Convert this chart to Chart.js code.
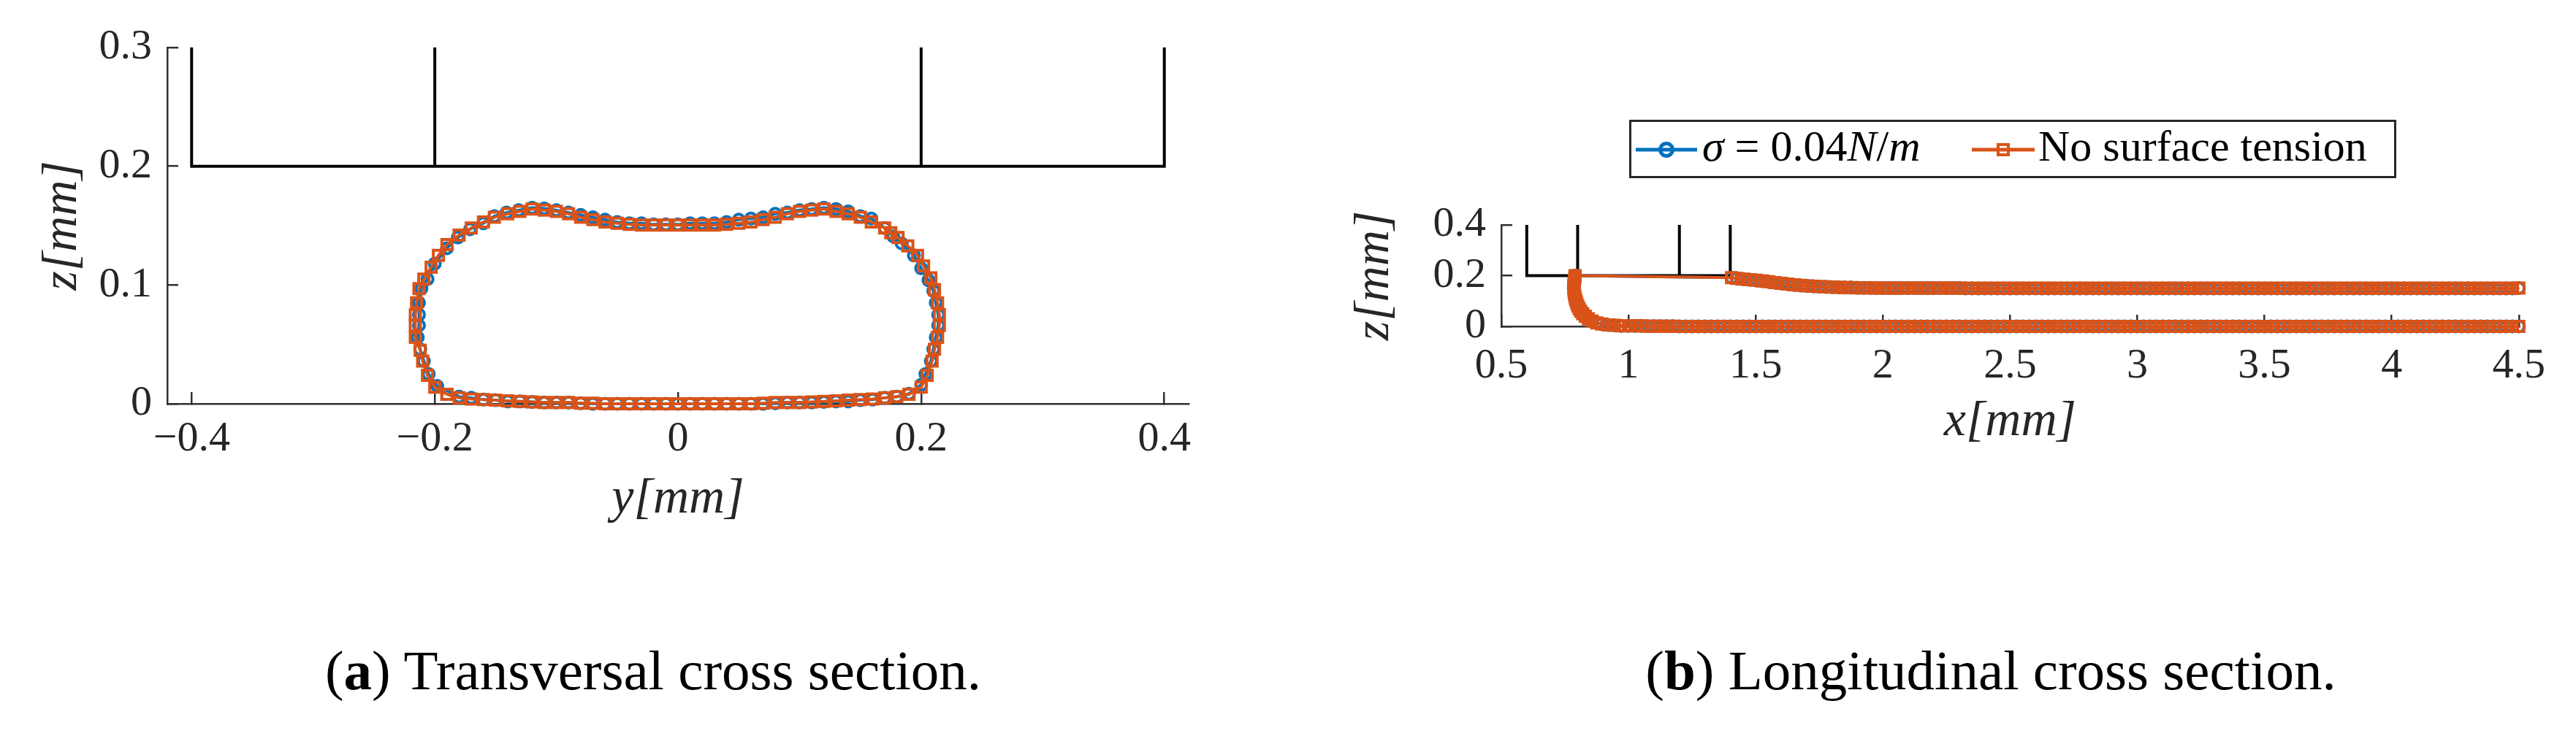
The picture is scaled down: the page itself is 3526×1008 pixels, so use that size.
<!DOCTYPE html>
<html lang="en">
<head>
<meta charset="UTF-8" />
<title>Cross sections</title>
<script src="https://cdn.jsdelivr.net/npm/chart.js"></script>
<style>
  html, body { margin: 0; padding: 0; background: #fff; }
  body { position: relative; width: 3526px; height: 1008px; overflow: hidden; font-family: "Liberation Serif", serif; color: #000; }
  canvas { position: absolute; top: 0; }
  .caption { position: absolute; top: 868px; font-size: 77px; line-height: 100px; white-space: nowrap; transform: translateX(-50%); }
  #legend { position: absolute; left: 2230px; top: 164px; width: 1044px; height: 74px; border: 3px solid #262626; background: #fff; font-size: 60px; color: #000; }
  #legend svg { position: absolute; top: 0; left: 0; }
  #legend span { position: absolute; top: 0; line-height: 66px; white-space: nowrap; }
</style>
</head>
<body>
<canvas id="transversal" width="1763" height="800" style="left:0"></canvas>
<canvas id="longitudinal" width="1763" height="800" style="left:1763px"></canvas>
<div id="legend">
  <svg width="1044" height="74">
    <line x1="6" x2="90" y1="38" y2="38" stroke="#0072BD" stroke-width="5"/>
    <circle cx="48" cy="38" r="8.5" fill="none" stroke="#0072BD" stroke-width="5"/>
    <line x1="466" x2="552" y1="38" y2="38" stroke="#D95319" stroke-width="5"/>
    <rect x="502" y="31" width="14" height="14" fill="none" stroke="#D95319" stroke-width="4"/>
  </svg>
  <span style="left:97px"><i>σ</i> = 0.04<i>N</i>/<i>m</i></span>
  <span style="left:557px">No surface tension</span>
</div>
<div class="caption" style="left:894px">(<b>a</b>) Transversal cross section.</div>
<div class="caption" style="left:2725px">(<b>b</b>) Longitudinal cross section.</div>

<script>
const BLUE = "#0072BD";
const ORANGE = "#D95319";
const AXIS = "#303030";

// transversal section, sigma = 0.04 N/m
const sigmaSectionY = [
  -0.180,-0.170,-0.160,-0.150,-0.140,-0.130,-0.120,-0.110,-0.100,-0.090,
  -0.080,-0.070,-0.060,-0.050,-0.040,-0.030,-0.020,-0.010,0.000,0.010,
  0.020,0.030,0.040,0.050,0.060,0.070,0.080,0.090,0.100,0.110,
  0.120,0.130,0.140,0.150,0.160,0.170,0.180,0.190,0.200,0.2035,
  0.208,0.210,0.212,0.214,0.214,0.212,0.210,0.206,0.200,0.194,
  0.184,0.177,0.170,0.159,0.150,0.140,0.130,0.120,0.110,0.100,
  0.090,0.080,0.070,0.060,0.050,0.040,0.030,0.020,0.010,0.000,
  -0.010,-0.020,-0.030,-0.040,-0.050,-0.060,-0.070,-0.080,-0.090,-0.100,
  -0.110,-0.120,-0.131,-0.141,-0.151,-0.160,-0.171,-0.181,-0.190,-0.200,
  -0.206,-0.211,-0.213,-0.213,-0.213,-0.214,-0.212,-0.209,-0.205,-0.198,-0.180
];
const sigmaSectionZ = [
  0.006,0.005,0.0035,0.003,0.002,0.002,0.0015,0.001,0.001,0.001,
  0.0005,0,0,0,0,0,0,0,0,0,
  0,0,0,0,0,0,0.0005,0.001,0.001,0.001,
  0.0015,0.002,0.002,0.003,0.0035,0.005,0.006,0.0085,0.016,0.025,
  0.036,0.046,0.056,0.066,0.075,0.085,0.095,0.104,0.114,0.125,
  0.135,0.141,0.148,0.156,0.158,0.162,0.164,0.165,0.164,0.163,
  0.161,0.160,0.157,0.156,0.155,0.153,0.152,0.152,0.152,0.151,
  0.151,0.151,0.152,0.152,0.153,0.155,0.157,0.159,0.161,0.163,
  0.1645,0.165,0.163,0.161,0.158,0.152,0.147,0.140,0.131,0.118,
  0.105,0.097,0.085,0.075,0.066,0.056,0.046,0.036,0.025,0.015,0.006
];

// transversal section, no surface tension
const plainSectionY = [
  -0.190,-0.180,-0.170,-0.160,-0.150,-0.140,-0.130,-0.120,-0.110,-0.100,
  -0.090,-0.080,-0.070,-0.060,-0.050,-0.040,-0.030,-0.020,-0.010,0.000,
  0.010,0.020,0.030,0.040,0.050,0.060,0.070,0.080,0.090,0.100,
  0.110,0.120,0.130,0.140,0.150,0.160,0.170,0.180,0.190,0.200,
  0.205,0.209,0.211,0.2135,0.215,0.215,0.2135,0.211,0.208,0.202,
  0.197,0.189,0.181,0.175,0.170,0.159,0.150,0.140,0.130,0.120,
  0.110,0.100,0.090,0.080,0.070,0.060,0.050,0.040,0.030,0.020,
  0.010,0.000,-0.010,-0.020,-0.030,-0.040,-0.050,-0.060,-0.070,-0.080,
  -0.090,-0.100,-0.110,-0.120,-0.130,-0.140,-0.151,-0.160,-0.170,-0.180,
  -0.190,-0.197,-0.203,-0.209,-0.213,-0.215,-0.216,-0.216,-0.216,-0.212,
  -0.210,-0.206,-0.200,-0.190
];
const plainSectionZ = [
  0.008,0.005,0.004,0.0035,0.003,0.0025,0.002,0.0015,0.001,0.001,
  0.001,0.0005,0.0005,0,0,0,0,0,0,0,
  0,0,0,0,0,0,0.0005,0.001,0.001,0.001,
  0.0015,0.002,0.0025,0.003,0.0035,0.004,0.005,0.006,0.008,0.014,
  0.024,0.036,0.046,0.056,0.066,0.075,0.085,0.096,0.106,0.116,
  0.125,0.133,0.140,0.144,0.148,0.153,0.157,0.160,0.162,0.164,
  0.163,0.162,0.160,0.157,0.155,0.153,0.152,0.151,0.1505,0.1505,
  0.1505,0.1505,0.1505,0.1505,0.1505,0.151,0.152,0.153,0.155,0.157,
  0.160,0.162,0.163,0.164,0.162,0.160,0.157,0.153,0.148,0.142,
  0.134,0.125,0.115,0.105,0.097,0.085,0.075,0.066,0.056,0.045,
  0.036,0.024,0.014,0.008
];

// channel outline in the transversal view
const wallLineY = [-0.4, -0.4, 0.4, 0.4];
const wallLineZ = [0.3, 0.2, 0.2, 0.3];
const wallPostsY = [-0.2, 0.2];
const wallPostsZ = [0.2, 0.3];

// longitudinal section, lower edge from x = 1 on
const lowerX = [
  1.000,1.025,1.050,1.075,1.100,1.125,1.150,1.175,1.200,1.225,
  1.250,1.275,1.300,1.325,1.350,1.375,1.400,1.425,1.450,1.475,
  1.500,1.525,1.550,1.575,1.600,1.625,1.650,1.675,1.700,1.725,
  1.750,1.775,1.800,1.825,1.850,1.875,1.900,1.925,1.950,1.975,
  2.000,2.025,2.050,2.075,2.100,2.125,2.150,2.175,2.200,2.225,
  2.250,2.275,2.300,2.325,2.350,2.375,2.400,2.425,2.450,2.475,
  2.500,2.525,2.550,2.575,2.600,2.625,2.650,2.675,2.700,2.725,
  2.750,2.775,2.800,2.825,2.850,2.875,2.900,2.925,2.950,2.975,
  3.000,3.025,3.050,3.075,3.100,3.125,3.150,3.175,3.200,3.225,
  3.250,3.275,3.300,3.325,3.350,3.375,3.400,3.425,3.450,3.475,
  3.500,3.525,3.550,3.575,3.600,3.625,3.650,3.675,3.700,3.725,
  3.750,3.775,3.800,3.825,3.850,3.875,3.900,3.925,3.950,3.975,
  4.000,4.025,4.050,4.075,4.100,4.125,4.150,4.175,4.200,4.225,
  4.250,4.275,4.300,4.325,4.350,4.375,4.400,4.425,4.450,4.475,
  4.500
];
const lowerZ = [
  0.002,0.002,0.002,0.001,0.001,0.001,0.001,0.001,0,0,
  0,0,0,0,0,0,0,0,0,0,
  0,0,0,0,0,0,0,0,0,0,
  0,0,0,0,0,0,0,0,0,0,
  0,0,0,0,0,0,0,0,0,0,
  0,0,0,0,0,0,0,0,0,0,
  0,0,0,0,0,0,0,0,0,0,
  0,0,0,0,0,0,0,0,0,0,
  0,0,0,0,0,0,0,0,0,0,
  0,0,0,0,0,0,0,0,0,0,
  0,0,0,0,0,0,0,0,0,0,
  0,0,0,0,0,0,0,0,0,0,
  0,0,0,0,0,0,0,0,0,0,
  0,0,0,0,0,0,0,0,0,0,
  0
];

// the rounded front of the film
const tipX = [0.790,0.789,0.787,0.786,0.785,0.785,0.786,0.787,0.789,0.791,0.794,0.797,0.801,0.806,0.812,0.820,0.830,0.842,0.857,0.875,0.895,0.920,0.945,0.970];
const tipZ = [0.200,0.190,0.180,0.170,0.160,0.150,0.140,0.130,0.120,0.110,0.100,0.090,0.080,0.070,0.060,0.050,0.040,0.030,0.021,0.014,0.009,0.006,0.004,0.002];

// upper edge behind the wall
const upperX = [
  1.405,1.425,1.450,1.475,1.500,1.525,1.550,1.575,1.600,1.625,
  1.650,1.675,1.700,1.725,1.750,1.775,1.800,1.825,1.850,1.875,
  1.900,1.925,1.950,1.975,2.000,2.025,2.050,2.075,2.100,2.125,
  2.150,2.175,2.200,2.225,2.250,2.275,2.300,2.325,2.350,2.375,
  2.400,2.425,2.450,2.475,2.500,2.525,2.550,2.575,2.600,2.625,
  2.650,2.675,2.700,2.725,2.750,2.775,2.800,2.825,2.850,2.875,
  2.900,2.925,2.950,2.975,3.000,3.025,3.050,3.075,3.100,3.125,
  3.150,3.175,3.200,3.225,3.250,3.275,3.300,3.325,3.350,3.375,
  3.400,3.425,3.450,3.475,3.500,3.525,3.550,3.575,3.600,3.625,
  3.650,3.675,3.700,3.725,3.750,3.775,3.800,3.825,3.850,3.875,
  3.900,3.925,3.950,3.975,4.000,4.025,4.050,4.075,4.100,4.125,
  4.150,4.175,4.200,4.225,4.250,4.275,4.300,4.325,4.350,4.375,
  4.400,4.425,4.450,4.475,4.500
];
const upperZ = [
  0.192,0.189,0.186,0.184,0.182,0.179,0.176,0.173,0.170,0.167,
  0.164,0.162,0.160,0.158,0.157,0.156,0.155,0.154,0.153,0.153,
  0.152,0.152,0.152,0.151,0.151,0.151,0.151,0.151,0.151,0.151,
  0.151,0.151,0.151,0.151,0.151,0.151,0.151,0.150,0.150,0.150,
  0.150,0.150,0.150,0.150,0.150,0.150,0.150,0.150,0.150,0.150,
  0.150,0.150,0.150,0.150,0.150,0.150,0.150,0.150,0.150,0.150,
  0.150,0.150,0.150,0.150,0.150,0.150,0.150,0.150,0.150,0.150,
  0.150,0.150,0.150,0.150,0.150,0.150,0.150,0.150,0.150,0.150,
  0.150,0.150,0.150,0.150,0.150,0.150,0.150,0.150,0.150,0.150,
  0.150,0.150,0.150,0.150,0.150,0.150,0.150,0.150,0.150,0.150,
  0.150,0.150,0.150,0.150,0.150,0.150,0.150,0.150,0.150,0.150,
  0.150,0.150,0.150,0.150,0.150,0.150,0.150,0.150,0.150,0.150,
  0.150,0.150,0.150,0.150,0.151
];

// channel outline in the longitudinal view
const longWallX = [0.6, 0.6, 1.4, 1.4];
const longWallZ = [0.4, 0.2, 0.2, 0.4];
const longPostsX = [0.8, 1.2];
const longPostsZ = [0.2, 0.4];

const sectionYTicks = [-0.4, -0.2, 0, 0.2, 0.4];
const sectionZTicks = [0, 0.1, 0.2, 0.3];
const longXTicks = [0.5, 1, 1.5, 2, 2.5, 3, 3.5, 4, 4.5];
const longZTicks = [0, 0.2, 0.4];

const toPoints = (xs, ys) => xs.map((x, i) => ({ x: x, y: ys[i] }));

const FAMILY = '"Liberation Serif", serif';
const tickFont = { family: FAMILY, size: 58, lineHeight: 1 };
const titleFont = { family: FAMILY, size: 68, style: "italic", lineHeight: 1 };

const formatTick = (value) => String(value).replace("-", "\u2212");

function blackLine(data, order) {
  return { data: data, borderColor: "#000", borderWidth: 4, showLine: true, pointRadius: 0, order: order, clip: false };
}
function blueSeries(data) {
  return {
    label: "\u03c3 = 0.04N/m", data: data, showLine: true, borderColor: BLUE, borderWidth: 4,
    pointStyle: "circle", pointRadius: 7.5, pointBorderWidth: 4, pointBorderColor: BLUE,
    pointBackgroundColor: "rgba(0,0,0,0)", order: 2, clip: false,
  };
}
function orangeSeries(data) {
  return {
    label: "No surface tension", data: data, showLine: true, borderColor: ORANGE, borderWidth: 4,
    pointStyle: "rect", pointRadius: 9.9, pointBorderWidth: 4, pointBorderColor: ORANGE,
    pointBackgroundColor: "rgba(0,0,0,0)", order: 1, clip: false,
  };
}

function makeChart(id, datasets, opt) {
  new Chart(document.getElementById(id), {
    type: "scatter",
    data: { datasets: datasets },
    options: {
      responsive: false,
      animation: false,
      devicePixelRatio: 1,
      layout: { padding: opt.padding },
      plugins: { legend: { display: false }, tooltip: { enabled: false } },
      scales: {
        x: {
          type: "linear", min: opt.xMin, max: opt.xMax,
          afterBuildTicks: (s) => { s.ticks = opt.xTicks.map((v) => ({ value: v })); },
          afterFit: (s) => { s.height = opt.bottomHeight; },
          border: { color: AXIS, width: 2.5 },
          grid: { drawOnChartArea: false, drawTicks: true, tickLength: -16, color: AXIS, lineWidth: 2.5 },
          ticks: { font: tickFont, color: "#262626", padding: opt.xTickPadding, maxRotation: 0, autoSkip: false, callback: formatTick },
          title: { display: true, text: opt.xTitle, font: titleFont, color: "#262626", padding: { top: 0, bottom: opt.xTitlePadding } },
        },
        y: {
          type: "linear", min: opt.yMin, max: opt.yMax,
          afterBuildTicks: (s) => { s.ticks = opt.yTicks.map((v) => ({ value: v })); },
          afterFit: (s) => { s.width = opt.leftWidth; },
          border: { color: AXIS, width: 2.5 },
          grid: { drawOnChartArea: false, drawTicks: true, tickLength: -15, color: AXIS, lineWidth: 2.5 },
          ticks: { font: tickFont, color: "#262626", padding: 36, autoSkip: false, callback: formatTick },
          title: { display: true, text: "z[mm]", font: titleFont, color: "#262626", padding: { top: opt.yTitlePadding, bottom: 0 } },
        },
      },
    },
  });
}

makeChart("transversal", [
  blackLine(toPoints(wallLineY, wallLineZ), 4),
  blackLine(toPoints([wallPostsY[0], wallPostsY[0]], wallPostsZ), 4),
  blackLine(toPoints([wallPostsY[1], wallPostsY[1]], wallPostsZ), 4),
  blueSeries(toPoints(sigmaSectionY, sigmaSectionZ)),
  orangeSeries(toPoints(plainSectionY, plainSectionZ)),
], {
  padding: { left: 0, right: 136, top: 53, bottom: 47 },
  xMin: -0.42, xMax: 0.42, yMin: 0, yMax: 0.3,
  xTicks: sectionYTicks, yTicks: sectionZTicks,
  leftWidth: 229, bottomHeight: 200,
  xTickPadding: 36, xTitlePadding: 35, yTitlePadding: 52,
  xTitle: "y[mm]",
});

const longPathX = lowerX.slice().reverse().concat(tipX.slice().reverse(), upperX);
const longPathZ = lowerZ.slice().reverse().concat(tipZ.slice().reverse(), upperZ);

makeChart("longitudinal", [
  blackLine(toPoints(longWallX, longWallZ), 4),
  blackLine(toPoints([longPostsX[0], longPostsX[0]], longPostsZ), 4),
  blackLine(toPoints([longPostsX[1], longPostsX[1]], longPostsZ), 4),
  blueSeries(toPoints(longPathX, longPathZ)),
  orangeSeries(toPoints(longPathX, longPathZ)),
], {
  padding: { left: 0, right: 67, top: 308, bottom: 153 },
  xMin: 0.5, xMax: 4.5, yMin: 0, yMax: 0.4,
  xTicks: longXTicks, yTicks: longZTicks,
  leftWidth: 292, bottomHeight: 200,
  xTickPadding: 42, xTitlePadding: 35, yTitlePadding: 85,
  xTitle: "x[mm]",
});
</script>
</body>
</html>
